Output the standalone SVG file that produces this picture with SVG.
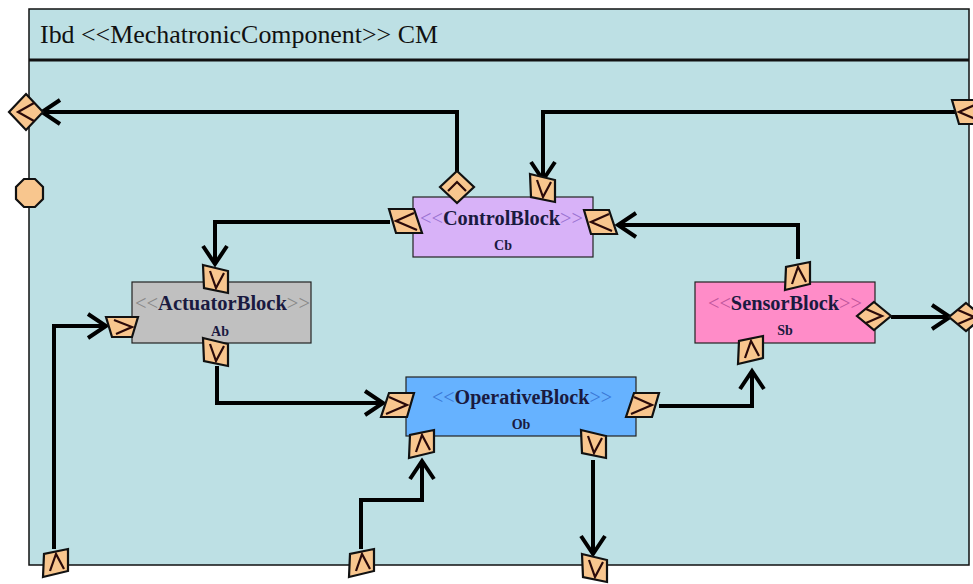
<svg xmlns="http://www.w3.org/2000/svg" xmlns:xlink="http://www.w3.org/1999/xlink" width="973" height="584" viewBox="0 0 973 584">
<style>
.frame{fill:#bde0e4;stroke:#111;stroke-width:1.5}
.blk{stroke:#222;stroke-width:1.2}
.port{fill:#f8c68e;stroke:#111;stroke-width:2.2;stroke-linejoin:miter}
.chev{fill:none;stroke:#2a0a0a;stroke-width:2.2}
.conn{fill:none;stroke:#000;stroke-width:4;stroke-linejoin:miter}
.title{font-family:"Liberation Serif",serif;font-size:25px;fill:#111}
.bt{font-family:"Liberation Serif",serif;font-weight:bold;font-size:20px;fill:#1a1a40}
.bn{font-family:"Liberation Serif",serif;font-weight:bold;font-size:14px;fill:#1a1a40}
</style>
<defs>
<marker id="arr" markerUnits="userSpaceOnUse" markerWidth="40" markerHeight="40" viewBox="-25 -20 30 40" refX="0" refY="0" orient="auto">
<path d="M-18,-12 L0,0 L-18,12" fill="none" stroke="#000" stroke-width="4"/>
</marker>
<g id="pdown"><polygon class="port" points="-13,-14 12,-8 12,14 -12,9"/><polyline class="chev" points="-6,-8 0,9 8,-6"/></g>
<g id="pup"><polygon class="port" points="-13,14 12,8 12,-14 -12,-9"/><polyline class="chev" points="-6,8 0,-9 8,6"/></g>
<g id="pright"><polygon class="port" points="-9,-12 16,-12 9,12 -17,12"/><polyline class="chev" points="-9,-8 9,0 -12,9"/></g>
<g id="pleft"><polygon class="port" points="9,-12 -16,-12 -9,12 17,12"/><polyline class="chev" points="9,-8 -9,0 12,9"/></g>
<g id="dleft"><polygon class="port" points="0,-18 17,0 0,18 -17,0"/><polyline class="chev" points="8,-9 -8,0 8,9"/></g>
<g id="dright"><polygon class="port" points="0,-14 17,0 0,14 -17,0"/><polyline class="chev" points="-8,-7 8,0 -8,7"/></g>
<g id="dup"><polygon class="port" points="0,-16 17,0 0,16 -17,0"/><polyline class="chev" points="-9,4 0,-5 9,4"/></g>
</defs>
<rect width="973" height="584" fill="#fff"/>
<g id="frame">
<rect class="frame" x="29" y="9" width="940" height="556"/>
<line x1="29" y1="60" x2="969" y2="60" stroke="#111" stroke-width="3"/>
<text class="title" x="40" y="43" textLength="398" lengthAdjust="spacingAndGlyphs">Ibd &lt;&lt;MechatronicComponent&gt;&gt; CM</text>
</g>
<g id="ControlBlock">
<rect class="blk" x="413" y="197" width="180" height="60" fill="#d8b2f8"/>
<text class="bt" x="420" y="225" textLength="163" lengthAdjust="spacingAndGlyphs"><tspan fill="#9a72d2" font-weight="normal">&lt;&lt;</tspan>ControlBlock<tspan fill="#9a72d2" font-weight="normal">&gt;&gt;</tspan></text>
<text class="bn" x="503" y="250" text-anchor="middle">Cb</text>
</g>
<g id="ActuatorBlock">
<rect class="blk" x="132" y="282" width="179" height="61" fill="#c0c0c0"/>
<text class="bt" x="135" y="310" textLength="175" lengthAdjust="spacingAndGlyphs"><tspan fill="#888" font-weight="normal">&lt;&lt;</tspan>ActuatorBlock<tspan fill="#888" font-weight="normal">&gt;&gt;</tspan></text>
<text class="bn" x="220" y="336" text-anchor="middle">Ab</text>
</g>
<g id="SensorBlock">
<rect class="blk" x="695" y="282" width="180" height="61" fill="#ff8cc8"/>
<text class="bt" x="708" y="310" textLength="154" lengthAdjust="spacingAndGlyphs"><tspan fill="#c0559c" font-weight="normal">&lt;&lt;</tspan>SensorBlock<tspan fill="#c0559c" font-weight="normal">&gt;&gt;</tspan></text>
<text class="bn" x="785" y="335" text-anchor="middle">Sb</text>
</g>
<g id="OperativeBlock">
<rect class="blk" x="406" y="377" width="230" height="59" fill="#66b2ff"/>
<text class="bt" x="432" y="404" textLength="180" lengthAdjust="spacingAndGlyphs"><tspan fill="#3a78d6" font-weight="normal">&lt;&lt;</tspan>OperativeBlock<tspan fill="#3a78d6" font-weight="normal">&gt;&gt;</tspan></text>
<text class="bn" x="521" y="429" text-anchor="middle">Ob</text>
</g>
<g id="connectors">
<path class="conn" d="M457,172 V112 H42" marker-end="url(#arr)"/>
<path class="conn" d="M955,112 H543 V180" marker-end="url(#arr)"/>
<path class="conn" d="M390,222 H215 V264" marker-end="url(#arr)"/>
<path class="conn" d="M798,259 V225 H618" marker-end="url(#arr)"/>
<path class="conn" d="M891,317 H950" marker-end="url(#arr)"/>
<path class="conn" d="M54,549 V326 H106" marker-end="url(#arr)"/>
<path class="conn" d="M217,366 V403 H383" marker-end="url(#arr)"/>
<path class="conn" d="M361,549 V500 H422 V461" marker-end="url(#arr)"/>
<path class="conn" d="M659,406 H752 V371" marker-end="url(#arr)"/>
<path class="conn" d="M593,460 V554" marker-end="url(#arr)"/>
</g>
<g id="ports">
<use xlink:href="#dleft" x="26" y="112"/>
<polygon class="port" points="24,179 35,179 43,187 43,199 35,207 24,207 16,199 16,187"/>
<use xlink:href="#pleft" x="968" y="112"/>
<use xlink:href="#dup" x="457" y="187"/>
<use xlink:href="#pdown" x="543" y="188"/>
<use xlink:href="#pleft" x="405" y="221"/>
<use xlink:href="#pleft" x="600" y="222"/>
<use xlink:href="#pdown" x="216" y="279"/>
<polygon class="port" points="106,317 138,317 132,337 112,337"/>
<polyline class="chev" points="114,320 132,327 116,334"/>
<use xlink:href="#pdown" x="216" y="352"/>
<use xlink:href="#pright" x="398" y="405"/>
<use xlink:href="#pright" x="643" y="405"/>
<use xlink:href="#pup" x="422" y="444"/>
<use xlink:href="#pdown" x="594" y="444"/>
<use xlink:href="#pup" x="798" y="276"/>
<use xlink:href="#pup" x="751" y="350"/>
<use xlink:href="#dright" x="874" y="316"/>
<use xlink:href="#dright" x="966" y="317"/>
<use xlink:href="#pup" x="56" y="563"/>
<use xlink:href="#pup" x="362" y="563"/>
<use xlink:href="#pdown" x="595" y="568"/>
</g>
</svg>
